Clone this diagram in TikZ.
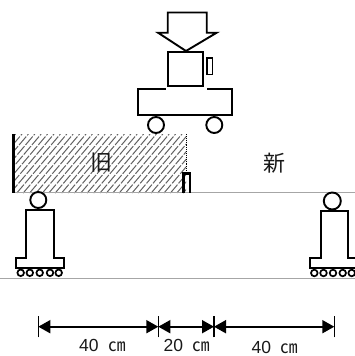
\documentclass[tikz,border=0pt]{standalone}
\usepackage{fontspec}
\setmainfont{Liberation Sans}
\newfontfamily\cjkf{Noto Sans CJK JP}
\usetikzlibrary{patterns,arrows.meta}
\tikzset{
  part/.style={draw=black,line width=1.9pt,fill=white},
  roller/.style={draw=black,line width=1.7pt,fill=white},
  groundline/.style={draw=black!35,line width=1pt},
  dimtick/.style={draw=black,line width=1.4pt},
  dimline/.style={draw=black,line width=1.8pt,{Triangle[length=12pt,width=13pt]}-{Triangle[length=12pt,width=13pt]}},
  dimtext/.style={font=\fontsize{17.5}{19}\selectfont,inner sep=0pt,text=black!90},
  bigtext/.style={font=\cjkf\fontsize{22}{24}\selectfont,inner sep=0pt,text=black!90}
}
\begin{document}
\begin{tikzpicture}[x=1pt,y=-1pt]
\useasboundingbox (0,0) rectangle (355,356);
% hatch
\begin{scope}
\clip (14,134) rectangle (186,193);
\foreach \i in {-60,-53.6,...,200}{
  \draw[black!62,line width=1pt,dash pattern=on 11pt off 1.6pt] (\i,193) -- (\i+50,134);
}
\end{scope}
\draw[black,densely dotted,line width=0.9pt] (186,134) -- (186,172);
% ground lines
\draw[groundline] (190,192.6) -- (355,192.6);
\draw[groundline] (0,278) -- (355,278);
\draw[groundline] (14,192.8) -- (190,192.8);
% wall and stub
\draw[black,line width=3pt] (13.6,134) -- (13.6,193);
\draw[black,line width=2.4pt] (183.5,192.5) -- (183.5,173.5) -- (189.7,173.5) -- (189.7,192.5);
% machine
\draw[part] (168,52) rectangle (202.7,86);
\draw[part,line width=1.5pt] (207,58) rectangle (212.7,74.7);
\draw[part] (138,89) rectangle (232.3,115);
\draw[draw=white,line width=2.2pt] (166,89) -- (206.5,89);
\draw[part] (156,125) circle (8);
\draw[part] (214.3,125) circle (8);
\draw[part] (167.7,12.5) -- (206.7,12.5) -- (206.7,32.7) -- (216.7,32.7) -- (186,51) -- (158,32.7) -- (167.7,32.7) -- cycle;
% left support
\draw[part] (38.3,200) circle (8);
\draw[part] (26,258.3) -- (26,210) -- (54.3,210) -- (54.3,258.3) -- (64.3,258.3) -- (64.3,267.7) -- (16,267.7) -- (16,258.3) -- cycle;
\foreach \x in {20.7,29.8,39.7,50,58.7}{\draw[roller] (\x,272.8) circle (3.3);}
% right support
\draw[part] (332.3,201) circle (8.5);
\draw[part] (320.7,258.3) -- (320.7,210.7) -- (348.3,210.7) -- (348.3,258.3) -- (358,258.3) -- (358,268.3) -- (310,268.3) -- (310,258.3) -- cycle;
\foreach \x in {314.3,323.5,333,342.7,351.7}{\draw[roller] (\x,273) circle (3.3);}
% labels
\node[bigtext] (old) at (101,162.5) {旧};
\node[bigtext] (new) at (274,163) {新};
% dimensions
\coordinate (a) at (38.3,326.7);
\coordinate (b) at (158.3,326.7);
\coordinate (c) at (214,326.7);
\coordinate (d) at (334.3,326.7);
\foreach \p in {a,b,c,d}{\draw[dimtick] ([yshift=-10.7pt]\p) -- ([yshift=10.7pt]\p);}
\draw[dimline] (a) -- (b);
\draw[dimline] (b) -- (c);
\draw[dimline] (c) -- (d);
\node[dimtext] (l1) at (102.7,345.5) {40\hspace{10pt}{\cjkf ㎝}};
\node[dimtext] (l2) at (186.7,345) {20\hspace{9pt}{\cjkf ㎝}};
\node[dimtext] (l3) at (275,347.5) {40\hspace{10pt}{\cjkf ㎝}};
\end{tikzpicture}
\end{document}
